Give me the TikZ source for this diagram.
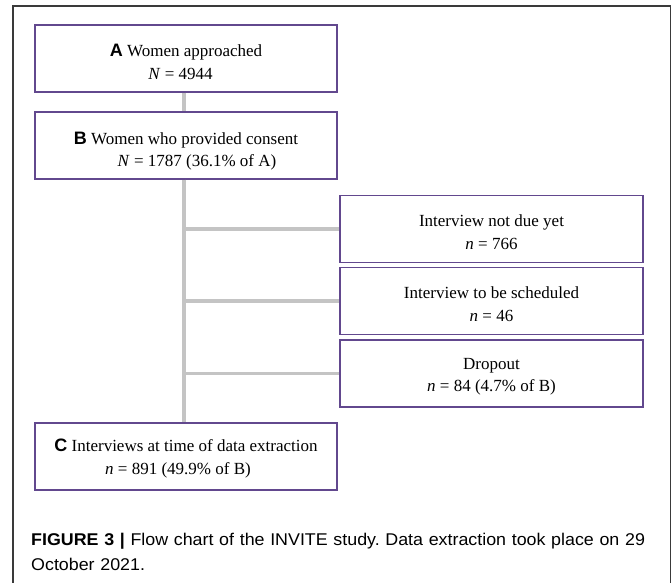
\documentclass[tikz,border=0pt]{standalone}
\usepackage{fontspec}
\setmainfont{Liberation Serif}
\newfontfamily\lettfont{Liberation Sans}
\newfontfamily\capfont[FakeStretch=1.05]{Liberation Sans}
\definecolor{boxline}{RGB}{98,72,142}
\definecolor{connline}{RGB}{196,196,196}
\definecolor{frameline}{RGB}{58,58,58}
\tikzset{
  flowbox/.style={draw=boxline, line width=1.1pt, fill=white,
    minimum width=302pt, minimum height=67pt, inner sep=0pt},
  sidebox/.style={flowbox, minimum width=303pt},
  boxtext/.style={inner sep=0pt, align=center,
    font=\fontsize{17}{22.5}\selectfont},
  conn/.style={draw=connline, line width=3.4pt},
}
\newcommand{\lett}[1]{{\lettfont\bfseries\fontsize{18}{22.5}\selectfont #1}}
\begin{document}
\frenchspacing
\begin{tikzpicture}[x=1pt,y=-1pt]
  \useasboundingbox (0,0) rectangle (672,583);
  % open frame round the figure
  \draw[frameline, line width=1.3pt] (13,583) -- (13,6) -- (670.5,6) -- (670.5,583);

  % vertical spine of the chart
  \coordinate (spine) at (184,0);

  % boxes
  \node[flowbox] (A) at (186,58.5) {};
  \node[sidebox] (r1) at (491.5,229) {};
  \node[sidebox] (r2) at (491.5,301) {};
  \node[sidebox] (r3) at (491.5,373.5) {};
  \node[flowbox] (B) at (186,145.5) {};
  \node[flowbox] (C) at (186,456.5) {};

  % box texts
  \node[boxtext] (A-text) at ([yshift=-3.5pt]A.center)
    {\lett{A} Women approached\\ \textit{N} = 4944\hspace*{11pt}};
  \node[boxtext] (B-text) at ([yshift=-5.5pt]B.center)
    {\lett{B} Women who provided consent\\ \hspace*{22pt}\textit{N} = 1787 (36.1\% of A)};
  \node[boxtext] (r1-text) at ([yshift=-3pt]r1.center)
    {Interview not due yet\\ \textit{n} = 766};
  \node[boxtext] (r2-text) at ([yshift=-3pt]r2.center)
    {Interview to be scheduled\\ \textit{n} = 46};
  \node[boxtext] (r3-text) at ([yshift=-3pt]r3.center)
    {Dropout\\ \textit{n} = 84 (4.7\% of B)};
  \node[boxtext] (C-text) at ([yshift=-2pt]C.center)
    {\lett{C} Interviews at time of data extraction\\ \textit{n} = 891 (49.9\% of B)\hspace*{16pt}};

  % connectors
  \draw[conn] (A.south -| spine) -- (B.north -| spine);
  \draw[conn] (B.south -| spine) -- (C.north -| spine);
  \draw[conn] (spine |- r1.west) -- (r1.west);
  \draw[conn] (spine |- r2.west) -- (r2.west);
  \draw[conn] (spine |- r3.west) -- (r3.west);

  % caption
  \node[anchor=base west, inner sep=0pt, text width=640pt, align=left,
        font=\capfont\fontsize{17}{24.5}\selectfont] (cap) at (31,545.7)
    {{\bfseries FIGURE 3 |} Flow chart of the INVITE study. Data extraction took place on 29\\
     October 2021.};
\end{tikzpicture}
\end{document}
